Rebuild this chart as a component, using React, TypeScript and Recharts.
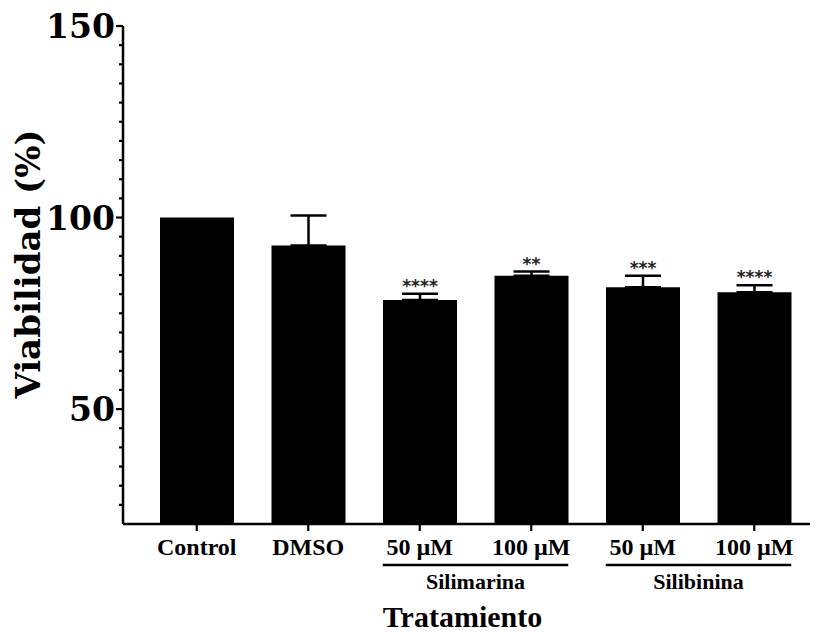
import React from 'react';
import { BarChart, Bar, XAxis, YAxis, ErrorBar, LabelList } from 'recharts';

// cell viability per treatment (mean, upper SEM, significance vs control)
const groups = ['ctrl', 'dmso', 'sm50', 'sm100', 'sb50', 'sb100'];
const tickLabels = ['Control', 'DMSO', '50 µM', '100 µM', '50 µM', '100 µM'];
const viability = [100, 92.7, 78.5, 84.8, 81.8, 80.5];
const sem = [0, 7.8, 1.6, 1.1, 3.0, 1.8];
const stars = ['', '', '****', '**', '***', '****'];
const treatments = [
  { name: 'Silimarina', first: 2, span: 2 },
  { name: 'Silibinina', first: 4, span: 2 },
];
const yTicks = [25, 30, 35, 40, 45, 50, 55, 60, 65, 70, 75, 80, 85, 90, 95, 100, 105, 110, 115, 120, 125, 130, 135, 140, 145, 150];
const yLabelled = [50, 100, 150];

const data = groups.map((id, i) => ({
  id,
  v: viability[i],
  err: sem[i] ? [0, sem[i]] : null,
}));

const W = 819;
const H = 635;
const AXIS_W = 123;
const TOP = 26;
const RIGHT = 9;
const X_H = 111;
const PAD_L = 18;
const BAR = 74;
const BAND = (W - AXIS_W - RIGHT - PAD_L) / groups.length;
const PX_PER_UNIT = (H - TOP - X_H) / (150 - 20);

const serif = '"DejaVu Serif", serif';
const tnr = '"Liberation Serif", serif';

const YTick = (props: any) => {
  const { x, y, payload } = props;
  const major = yLabelled.includes(payload.value);
  return (
    <g>
      <line x1={x} x2={x - (major ? 7 : 4)} y1={y} y2={y} stroke="#000" strokeWidth={2.2} />
      {major && (
        <text x={x - 8} y={y + 12} textAnchor="end" fontFamily={serif} fontWeight="bold" fontSize={33} fill="#000">
          {payload.value}
        </text>
      )}
    </g>
  );
};

const XTick = (props: any) => {
  const { x, y, index } = props;
  const grp = treatments.find((t) => t.first === index);
  return (
    <g>
      <line x1={x} x2={x} y1={y} y2={y + 7} stroke="#000" strokeWidth={2.2} />
      <text x={x} y={y + 31} textAnchor="middle" fontFamily={tnr} fontWeight="bold" fontSize={24} fill="#000">
        {tickLabels[index]}
      </text>
      {grp && (
        <g>
          <line
            x1={x - BAR / 2}
            x2={x + (grp.span - 1) * BAND + BAR / 2}
            y1={y + 41}
            y2={y + 41}
            stroke="#000"
            strokeWidth={2.5}
          />
          <text
            x={x + ((grp.span - 1) * BAND) / 2}
            y={y + 65}
            textAnchor="middle"
            fontFamily={tnr}
            fontWeight="bold"
            fontSize={22}
            fill="#000"
          >
            {grp.name}
          </text>
        </g>
      )}
    </g>
  );
};

const Stars = (props: any) => {
  const { x, y, width, index } = props;
  if (!stars[index]) return null;
  const capY = y - sem[index] * PX_PER_UNIT;
  return (
    <text x={x + width / 2} y={capY - 2} textAnchor="middle" fontFamily='"DejaVu Sans", sans-serif' fontWeight="bold" fontSize={17} fill="#222">
      {stars[index]}
    </text>
  );
};

export default function App() {
  return (
    <div style={{ position: 'absolute', left: 0, top: 0, width: W, height: H, background: '#fff' }}>
      <BarChart width={W} height={H} data={data} margin={{ top: TOP, right: RIGHT, bottom: 0, left: 0 }} barSize={BAR}>
        <XAxis
          dataKey="id"
          height={X_H}
          padding={{ left: PAD_L, right: 0 }}
          axisLine={{ stroke: '#000', strokeWidth: 2.5 }}
          tickLine={false}
          tickSize={0}
          tickMargin={0}
          interval={0}
          tick={<XTick />}
          label={{
            content: (p: any) => (
              <text
                x={p.viewBox.x + p.viewBox.width / 2 - 4}
                y={H - 8}
                textAnchor="middle"
                fontFamily={tnr}
                fontWeight="bold"
                fontSize={30}
                fill="#000"
              >
                Tratamiento
              </text>
            ),
          }}
        />
        <YAxis
          width={AXIS_W}
          domain={[20, 150]}
          ticks={yTicks}
          interval={0}
          allowDataOverflow
          axisLine={{ stroke: '#000', strokeWidth: 2.5 }}
          tickLine={false}
          tickSize={0}
          tickMargin={0}
          tick={<YTick />}
          label={{
            content: (p: any) => (
              <text
                x={28}
                y={p.viewBox.y + p.viewBox.height / 2 - 11}
                transform={`rotate(-90 28 ${p.viewBox.y + p.viewBox.height / 2 - 11})`}
                textAnchor="middle"
                dominantBaseline="central"
                fontFamily={serif}
                fontWeight="bold"
                fontSize={34}
                fill="#000"
              >
                Viabilidad (%)
              </text>
            ),
          }}
        />
        <Bar dataKey="v" fill="#000" isAnimationActive={false}>
          <ErrorBar dataKey="err" direction="y" width={18} stroke="#000" strokeWidth={2.5} />
          <LabelList dataKey="v" content={<Stars />} />
        </Bar>
      </BarChart>
    </div>
  );
}
